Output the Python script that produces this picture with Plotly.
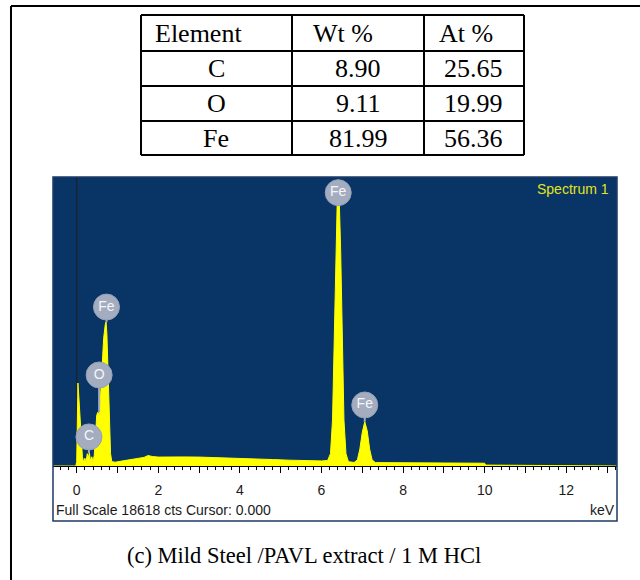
import plotly.graph_objects as go

# ---------------- data ----------------
table_header = ["Element", "Wt %", "At %"]
elements = ["C", "O", "Fe"]
wt_pct = ["8.90", "9.11", "81.99"]
at_pct = ["25.65", "19.99", "56.36"]

energy_kev = [-0.6, -0.02, 0.0, 0.02, 0.03, 0.05, 0.08, 0.11, 0.14, 0.17, 0.20, 0.23, 0.26, 0.28,
              0.31, 0.34, 0.37, 0.40, 0.43, 0.46, 0.49, 0.52, 0.55, 0.58, 0.62, 0.66, 0.70, 0.72,
              0.74, 0.77, 0.80, 0.83, 0.86, 0.95, 1.1, 1.3, 1.5, 1.65, 1.75, 1.85, 2.0, 2.3, 2.6,
              3.0, 3.3, 3.6, 4.0, 4.4, 4.8, 5.2, 5.6, 6.0, 6.15, 6.22, 6.27, 6.31, 6.35, 6.39,
              6.41, 6.43, 6.47, 6.51, 6.55, 6.60, 6.66, 6.80, 6.88, 6.94, 7.00, 7.06, 7.12, 7.18,
              7.24, 7.32, 8.0, 9.0, 10.0, 10.02, 10.6, 11.0, 11.05, 13.3]
counts = [0, 0, 300, 4800, 5400, 4600, 3000, 1700, 600, 250, 500, 300, 800, 500,
          850, 300, 600, 250, 700, 1900, 3300, 3500, 3300, 4300, 6200, 8300, 9200, 9370,
          8600, 5800, 2600, 800, 280, 250, 320, 400, 470, 560, 680, 620, 580, 600, 590,
          580, 560, 540, 500, 470, 420, 380, 350, 330, 360, 800, 3000, 8000, 14000, 17800,
          18618, 17800, 14000, 8000, 3000, 800, 280, 230, 400, 1100, 2200, 2880, 2300, 1100,
          400, 220, 210, 190, 180, 60, 50, 40, 0, 0]

label_text = ["C", "O", "Fe", "Fe", "Fe"]
label_energy = [0.30, 0.55, 0.73, 6.41, 7.06]
label_peak = [850, 3500, 9370, 18618, 2880]
label_height = [1890, 5920, 10340, 17780, 3970]

tick_values = list(range(0, 14))
tick_labels = [str(v) if v % 2 == 0 else "" for v in tick_values]

full_scale = 18618

# ---------------- helpers ----------------
W, H = 640, 580
def px(x):
    return x / W
def py(y):
    return 1 - y / H

fig = go.Figure()

# spectrum
fig.add_trace(go.Scatter(
    x=energy_kev, y=counts, mode="lines", fill="tozeroy",
    line=dict(color="#ffff00", width=1), fillcolor="#ffff00",
    hoverinfo="skip", showlegend=False, xaxis="x", yaxis="y"))

# label stems
for e, pk, hgt in zip(label_energy, label_peak, label_height):
    if hgt < pk:
        continue
    fig.add_trace(go.Scatter(
        x=[e, e], y=[pk, hgt], mode="lines",
        line=dict(color="#a4adbf", width=2), hoverinfo="skip",
        showlegend=False, xaxis="x", yaxis="y"))

# label circles
fig.add_trace(go.Scatter(
    x=label_energy, y=label_height, mode="markers+text", text=label_text,
    textposition="middle center",
    textfont=dict(family="Liberation Sans, Arial", size=14, color="#f4f6fa"),
    marker=dict(size=26, color="#a4adbf", line=dict(color="#96a0b4", width=1)),
    hoverinfo="skip", showlegend=False, cliponaxis=False, xaxis="x", yaxis="y"))

# overlay axis for the 1-keV major ticks
fig.add_trace(go.Scatter(x=[0], y=[0], mode="markers", marker=dict(opacity=0),
                         hoverinfo="skip", showlegend=False, xaxis="x2", yaxis="y"))

xr = [(53 - 76.7) / 40.8, (617 - 76.7) / 40.8]
ydom = [py(466), py(177)]
xdom = [px(53), px(617)]

fig.update_layout(
    width=W, height=H,
    margin=dict(l=0, r=0, t=0, b=0),
    paper_bgcolor="white",
    plot_bgcolor="#083566",
    xaxis=dict(domain=xdom, range=xr, tickmode="linear", tick0=0, dtick=2,
               showgrid=False, zeroline=False, showline=True, linecolor="black",
               linewidth=1, ticks="outside", ticklen=6, tickcolor="black", tickwidth=1,
               tickfont=dict(family="Liberation Sans, Arial", size=14, color="#1a1a1a"),
               ticklabelstandoff=5,
               minor=dict(tickmode="linear", tick0=0, dtick=0.2, ticks="outside",
                          ticklen=3, tickcolor="black", tickwidth=1, showgrid=False),
               fixedrange=True, anchor="y"),
    xaxis2=dict(domain=xdom, range=xr, overlaying="x", anchor="y", side="bottom",
                tickmode="array", tickvals=tick_values, ticktext=tick_labels,
                showticklabels=False, showgrid=False, zeroline=False, showline=False,
                ticks="outside", ticklen=6, tickcolor="black", tickwidth=1, fixedrange=True),
    yaxis=dict(domain=ydom, range=[0, 18800], showgrid=False, zeroline=False,
               showticklabels=False, showline=False, ticks="", fixedrange=True),
)

shapes = []
# outer frame (left and top)
shapes.append(dict(type="line", xref="paper", yref="paper", x0=px(11), x1=px(11), y0=py(6), y1=0,
                   line=dict(color="black", width=2)))
shapes.append(dict(type="line", xref="paper", yref="paper", x0=px(11), x1=1, y0=py(6), y1=py(6),
                   line=dict(color="black", width=2)))

# table grid
col_edges = [141, 292, 424, 524]
row_edges = [15, 51, 86, 121, 155]
for xe in col_edges:
    shapes.append(dict(type="line", xref="paper", yref="paper", x0=px(xe), x1=px(xe),
                       y0=py(row_edges[0]), y1=py(row_edges[-1]), line=dict(color="black", width=2)))
for ye in row_edges:
    shapes.append(dict(type="line", xref="paper", yref="paper", x0=px(col_edges[0]), x1=px(col_edges[-1]),
                       y0=py(ye), y1=py(ye), line=dict(color="black", width=2)))

# zero-energy marker line
shapes.append(dict(type="line", xref="x", yref="paper", x0=0, x1=0, y0=ydom[0], y1=ydom[1],
                   line=dict(color="#1b2434", width=1.5), layer="below"))

# panel border
shapes.append(dict(type="rect", xref="paper", yref="paper", x0=px(53), x1=px(617), y0=py(521), y1=py(177),
                   line=dict(color="#1e3a66", width=1.5), fillcolor="rgba(0,0,0,0)"))

annotations = []
serif = "Liberation Serif, Times New Roman, serif"
hdr_left = [153, 311, 437]
for txt, xl in zip(table_header, hdr_left):
    annotations.append(dict(text=txt, xref="paper", yref="paper", x=px(xl), y=py(33),
                            xanchor="left", yanchor="middle", showarrow=False,
                            font=dict(family=serif, size=26, color="black")))
col_centers = [216, 358, 473]
row_centers = [68.5, 103.5, 138]
for i in range(len(elements)):
    for j, col in enumerate([elements, wt_pct, at_pct]):
        annotations.append(dict(text=col[i], xref="paper", yref="paper",
                                x=px(col_centers[j]), y=py(row_centers[i]),
                                xanchor="center", yanchor="middle", showarrow=False,
                                font=dict(family=serif, size=26, color="black")))

sans = "Liberation Sans, Arial, sans-serif"
annotations.append(dict(text="Spectrum 1", xref="paper", yref="paper", x=px(611), y=py(189),
                        xanchor="right", yanchor="middle", showarrow=False,
                        font=dict(family=sans, size=14, color="#e4e41c")))
annotations.append(dict(text=f"Full Scale {full_scale} cts Cursor: 0.000", xref="paper", yref="paper",
                        x=px(54), y=py(510), xanchor="left", yanchor="middle", showarrow=False,
                        font=dict(family=sans, size=14, color="#1a1a1a")))
annotations.append(dict(text="keV", xref="paper", yref="paper", x=px(617), y=py(510),
                        xanchor="right", yanchor="middle", showarrow=False,
                        font=dict(family=sans, size=14, color="#1a1a1a")))
annotations.append(dict(text="(c) Mild Steel /PAVL extract / 1 M HCl", xref="paper", yref="paper",
                        x=px(304), y=py(555), xanchor="center", yanchor="middle", showarrow=False,
                        font=dict(family=serif, size=22.5, color="black")))

fig.update_layout(shapes=shapes, annotations=annotations)

fig.write_html("out.html")
